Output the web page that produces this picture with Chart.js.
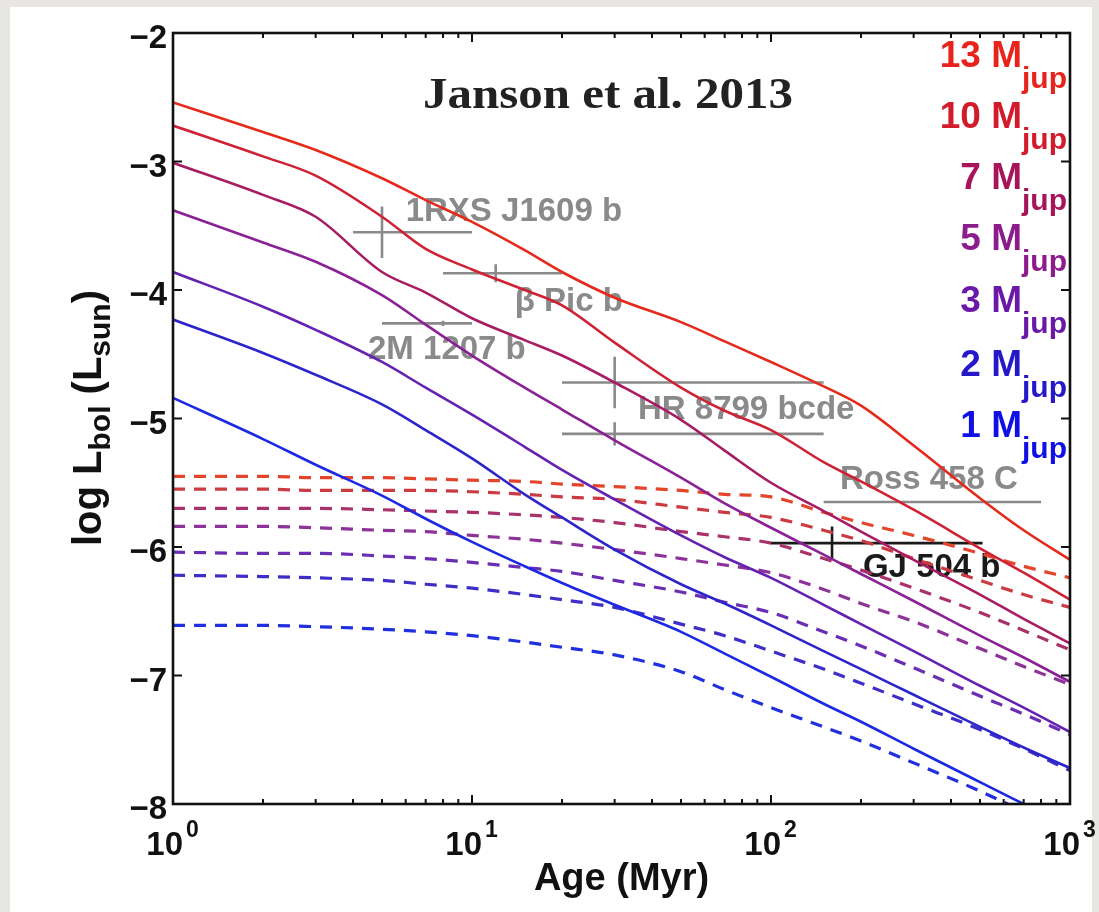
<!DOCTYPE html>
<html>
<head>
<meta charset="utf-8">
<script src="https://cdn.jsdelivr.net/npm/chart.js@4.4.1/dist/chart.umd.min.js"></script>
<style>
  html, body { margin: 0; padding: 0; background: #e8e6e2; }
  #wrap { position: absolute; left: 0; top: 0; width: 1099px; height: 912px; }
  canvas { display: block; }
</style>
</head>
<body>
<div id="wrap"><canvas id="c" width="1099" height="912"></canvas></div>
<script>
// Ages (Myr) at which the evolutionary tracks are sampled
const ages = [1, 2, 3, 5, 7, 10, 15, 20, 30, 50, 70, 100, 150, 200, 300, 500, 700, 1000];
const massNames = ['13', '10', '7', '5', '3', '2', '1'];

// Hot-start tracks: log L_bol / L_sun
const hot13 = [-2.54, -2.77, -2.91, -3.13, -3.30, -3.47, -3.69, -3.86, -4.06, -4.25, -4.40, -4.56, -4.75, -4.90, -5.21, -5.62, -5.87, -6.10];
const hot10 = [-2.72, -2.96, -3.11, -3.43, -3.68, -3.84, -4.00, -4.12, -4.41, -4.76, -4.94, -5.09, -5.34, -5.49, -5.71, -6.01, -6.20, -6.41];
const hot7  = [-3.01, -3.26, -3.43, -3.86, -4.02, -4.22, -4.39, -4.51, -4.72, -5.01, -5.25, -5.50, -5.72, -5.88, -6.10, -6.37, -6.56, -6.75];
const hot5  = [-3.38, -3.63, -3.78, -4.04, -4.27, -4.51, -4.76, -4.93, -5.17, -5.46, -5.66, -5.85, -6.06, -6.21, -6.42, -6.69, -6.86, -7.05];
const hot3  = [-3.86, -4.13, -4.31, -4.56, -4.76, -4.97, -5.22, -5.40, -5.63, -5.91, -6.08, -6.24, -6.45, -6.60, -6.81, -7.08, -7.25, -7.44];
const hot2  = [-4.23, -4.49, -4.66, -4.89, -5.09, -5.31, -5.59, -5.77, -6.02, -6.29, -6.44, -6.61, -6.81, -6.95, -7.15, -7.40, -7.56, -7.72];
const hot1  = [-4.84, -5.16, -5.36, -5.60, -5.78, -5.96, -6.15, -6.28, -6.45, -6.66, -6.83, -7.01, -7.22, -7.36, -7.57, -7.83, -8.00, -8.18];

// Cold-start tracks: log L_bol / L_sun
const cold13 = [-5.45, -5.45, -5.46, -5.46, -5.47, -5.48, -5.49, -5.51, -5.53, -5.56, -5.59, -5.61, -5.73, -5.81, -5.91, -6.05, -6.15, -6.24];
const cold10 = [-5.55, -5.55, -5.56, -5.56, -5.56, -5.57, -5.59, -5.61, -5.63, -5.69, -5.73, -5.77, -5.87, -5.95, -6.09, -6.26, -6.37, -6.47];
const cold7  = [-5.70, -5.70, -5.70, -5.71, -5.72, -5.73, -5.75, -5.77, -5.81, -5.88, -5.92, -5.97, -6.09, -6.18, -6.32, -6.51, -6.65, -6.80];
const cold5  = [-5.84, -5.84, -5.85, -5.87, -5.88, -5.91, -5.94, -5.97, -6.02, -6.09, -6.14, -6.20, -6.33, -6.44, -6.58, -6.79, -6.93, -7.07];
const cold3  = [-6.04, -6.05, -6.05, -6.07, -6.09, -6.12, -6.16, -6.19, -6.26, -6.35, -6.43, -6.51, -6.66, -6.77, -6.94, -7.16, -7.30, -7.46];
const cold2  = [-6.22, -6.23, -6.24, -6.26, -6.29, -6.32, -6.37, -6.41, -6.47, -6.60, -6.69, -6.81, -6.95, -7.06, -7.22, -7.42, -7.57, -7.74];
const cold1  = [-6.61, -6.61, -6.62, -6.64, -6.66, -6.69, -6.74, -6.78, -6.84, -6.97, -7.11, -7.25, -7.40, -7.51, -7.68, -7.90, -8.06, -8.24];

// Directly imaged companions: age (Myr) with range, log L_bol with error
const objNames = ['1RXS J1609 b', 'β Pic b', '2M 1207 b', 'HR 8799 bcde', '', 'Ross 458 C', 'GJ 504 b'];
const objAge   = [5, 12, 8, 30, 30, null, 160];
const objAgeLo = [4, 8, 5, 20, 20, 150, 100];
const objAgeHi = [10, 20, 10, 150, 150, 800, 510];
const objLogL  = [-3.55, -3.87, -4.26, -4.72, -5.12, -5.65, -5.97];
const objErr   = [0.20, 0.07, 0.02, 0.20, 0.09, 0, 0.13];

// Axis ticks
const yTicks = [-2, -3, -4, -5, -6, -7, -8];
const xDecades = [0, 1, 2, 3];

// ---- styling ----
const hotColors  = ['#e52a1c', '#cf2234', '#a81c62', '#8a2296', '#6422b2', '#2e24cc', '#1c28e2'];
const coldColors = ['#e4452a', '#cc3a42', '#aa326a', '#8c3298', '#6a2eb2', '#3e2ec8', '#2030de'];
const labelColors = ['#e8231c', '#d21c2c', '#a8145a', '#8c1c8c', '#6a18a8', '#2418c8', '#1010e6'];
const GRAY = '#8a8a8a';
const SANS = '"Liberation Sans", Arial, Helvetica, sans-serif';

const hotTracks  = [hot13, hot10, hot7, hot5, hot3, hot2, hot1];
const coldTracks = [cold13, cold10, cold7, cold5, cold3, cold2, cold1];

const datasets = [];
hotTracks.forEach((track, i) => {
  datasets.push({
    data: ages.map((a, j) => ({ x: a, y: track[j] })),
    borderColor: hotColors[i], borderWidth: 2.6,
    pointRadius: 0, fill: false, cubicInterpolationMode: 'monotone', order: 0
  });
});
coldTracks.forEach((track, i) => {
  datasets.push({
    data: ages.map((a, j) => ({ x: a, y: track[j] })),
    borderColor: coldColors[i], borderWidth: 3.2, borderDash: [12, 9],
    pointRadius: 0, fill: false, cubicInterpolationMode: 'monotone', order: 0
  });
});
objLogL.forEach((L, i) => {
  const col = i === 6 ? '#1a1a1a' : GRAY;
  datasets.push({
    data: [{ x: objAgeLo[i], y: L }, { x: objAgeHi[i], y: L }],
    borderColor: col, borderWidth: 2.6, pointRadius: 0, tension: 0, order: 1
  });
  if (objErr[i] > 0 && objAge[i] !== null) {
    datasets.push({
      data: [{ x: objAge[i], y: L + objErr[i] }, { x: objAge[i], y: L - objErr[i] }],
      borderColor: col, borderWidth: 2.6, pointRadius: 0, tension: 0, order: 1
    });
  }
});

function drawParts(ctx, parts, x, y) {
  // parts: [text, fontPx, baselineShift]; drawn left to right from x
  let cx = x;
  parts.forEach(p => {
    ctx.font = 'bold ' + p[1] + 'px ' + SANS;
    ctx.fillText(p[0], cx, y + p[2]);
    cx += ctx.measureText(p[0]).width;
  });
  return cx - x;
}
function partsWidth(ctx, parts) {
  let w = 0;
  parts.forEach(p => { ctx.font = 'bold ' + p[1] + 'px ' + SANS; w += ctx.measureText(p[0]).width; });
  return w;
}

const decor = {
  id: 'decor',
  beforeDraw(chart) {
    const ctx = chart.ctx;
    ctx.save();
    ctx.fillStyle = '#e8e6e2';
    ctx.fillRect(0, 0, chart.width, chart.height);
    ctx.fillStyle = '#ffffff';
    ctx.fillRect(10, 7, 1082, 905);
    ctx.restore();
  },
  beforeDatasetsDraw(chart) {
    // companion names, placed in data coordinates
    const ctx = chart.ctx, xs = chart.scales.x, ys = chart.scales.y;
    const anchors = [[6.0, -3.39], [13.9, -4.09], [4.49, -4.47], [35.9, -4.93], null, [170, -5.48], [203, -6.16]];
    ctx.save();
    ctx.font = 'bold 33px ' + SANS;
    ctx.textAlign = 'left';
    ctx.textBaseline = 'middle';
    objNames.forEach((name, i) => {
      if (!name || !anchors[i]) return;
      ctx.fillStyle = i === 6 ? '#1a1a1a' : GRAY;
      ctx.fillText(name, xs.getPixelForValue(anchors[i][0]), ys.getPixelForValue(anchors[i][1]));
    });
    ctx.restore();
  },
  afterDatasetsDraw(chart) {
    const ctx = chart.ctx, xs = chart.scales.x, ys = chart.scales.y;
    const a = chart.chartArea;
    ctx.save();
    // axes box
    ctx.strokeStyle = '#111';
    ctx.lineWidth = 2.6;
    ctx.strokeRect(a.left, a.top, a.right - a.left, a.bottom - a.top);
    // y ticks (both sides, inward)
    ctx.lineWidth = 2;
    yTicks.forEach(v => {
      const y = ys.getPixelForValue(v);
      ctx.beginPath();
      ctx.moveTo(a.left, y); ctx.lineTo(a.left + 9, y);
      ctx.moveTo(a.right, y); ctx.lineTo(a.right - 9, y);
      ctx.stroke();
    });
    // x ticks, log major + minor
    xDecades.forEach(d => {
      for (let m = 1; m <= 9; m++) {
        const v = m * Math.pow(10, d);
        if (v > 1000) break;
        const x = xs.getPixelForValue(v);
        const len = m === 1 ? 9 : 5;
        ctx.beginPath();
        ctx.moveTo(x, a.bottom); ctx.lineTo(x, a.bottom - len);
        ctx.moveTo(x, a.top); ctx.lineTo(x, a.top + len);
        ctx.stroke();
      }
    });
    ctx.fillStyle = '#111';
    // y tick labels
    ctx.textAlign = 'right';
    ctx.textBaseline = 'alphabetic';
    ctx.font = 'bold 33px ' + SANS;
    yTicks.forEach(v => {
      const y = ys.getPixelForValue(v);
      ctx.fillText('\u2212' + Math.abs(v), a.left - 6, y + 15);
    });
    // x tick labels 10^n
    xDecades.forEach(d => {
      const x = xs.getPixelForValue(Math.pow(10, d));
      ctx.textAlign = 'right';
      ctx.font = 'bold 33px ' + SANS;
      ctx.fillText('10', x + 10, a.bottom + 51);
      ctx.textAlign = 'left';
      ctx.font = 'bold 23px ' + SANS;
      ctx.fillText(String(d), x + 13, a.bottom + 33);
    });
    // x axis title
    ctx.textAlign = 'center';
    ctx.font = 'bold 38px ' + SANS;
    ctx.fillText('Age (Myr)', (a.left + a.right) / 2, 890);
    // y axis title, rotated
    ctx.save();
    ctx.translate(101, 418);
    ctx.rotate(-Math.PI / 2);
    ctx.textAlign = 'left';
    const yParts = [['log L', 40, 0], ['bol', 30, 9], [' (L', 40, 0], ['sun', 30, 9], [')', 40, 0]];
    drawParts(ctx, yParts, -partsWidth(ctx, yParts) / 2, 0);
    ctx.restore();
    // mass labels
    ctx.textAlign = 'left';
    const labelY = [54, 115, 176, 237, 299, 363, 424];
    massNames.forEach((m, i) => {
      const parts = [[m + ' M', 37, 0], ['jup', 30, 21]];
      const w = partsWidth(ctx, parts);
      ctx.fillStyle = labelColors[i];
      drawParts(ctx, parts, 1067 - w, labelY[i] + 13);
    });
    // citation
    ctx.fillStyle = '#222';
    ctx.font = 'bold 44px "Liberation Serif", "DejaVu Serif", serif';
    const t = 'Janson et al. 2013';
    const tw = ctx.measureText(t).width;
    ctx.save();
    ctx.translate(423, 108);
    ctx.scale(370 / tw, 1);
    ctx.fillText(t, 0, 0);
    ctx.restore();
    ctx.restore();
  }
};

new Chart(document.getElementById('c'), {
  type: 'line',
  data: { datasets },
  options: {
    responsive: false,
    animation: false,
    events: [],
    layout: { padding: { left: 173, top: 33, right: 29, bottom: 108 } },
    plugins: { legend: { display: false }, tooltip: { enabled: false } },
    scales: {
      x: { type: 'logarithmic', min: 1, max: 1000, display: false },
      y: { type: 'linear', min: -8, max: -2, display: false }
    }
  },
  plugins: [decor]
});
</script>
</body>
</html>
